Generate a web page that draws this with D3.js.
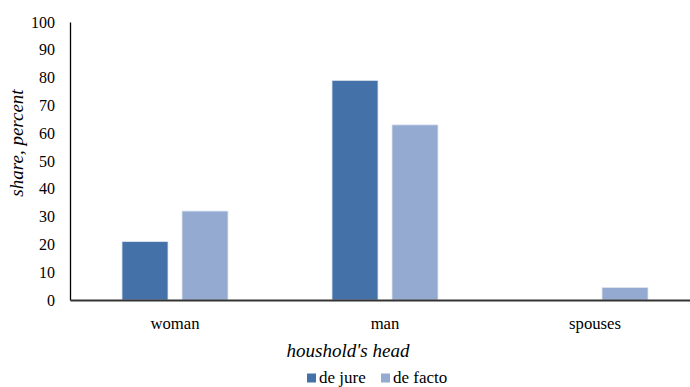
<!DOCTYPE html>
<html>
<head>
<meta charset="utf-8">
<script src="https://cdn.jsdelivr.net/npm/d3@7"></script>
<style>
  html, body { margin: 0; padding: 0; background: #fff; }
  svg { display: block; }
</style>
</head>
<body>
<svg id="chart" width="690" height="387"></svg>
<script>
// Share of households by type of head
const categories = ["woman", "man", "spouses"];
const seriesNames = ["de jure", "de facto"];
const deJure = [21, 79, 0];
const deFacto = [32, 63, 4.5];
const yTicks = [0, 10, 20, 30, 40, 50, 60, 70, 80, 90, 100];
const colors = ["#4472A8", "#94AAD1"];
const FONT = "Liberation Serif";

const svg = d3.select("#chart").attr("font-family", FONT);
const margin = { left: 70, top: 22, bottom: 87, right: -10 };
const W = 690, H = 387;

const x = d3.scaleBand().domain(categories).range([margin.left, W - margin.right]).paddingInner(0).paddingOuter(0);
const y = d3.scaleLinear().domain([0, 100]).range([H - margin.bottom, margin.top]);
const inner = d3.scaleBand().domain(seriesNames).range([0, x.bandwidth()]).paddingInner(0.2333).paddingOuter(0.8667);

const rows = categories.map((c, i) => ({ cat: c, values: [deJure[i], deFacto[i]] }));

// bars
const g = svg.append("g");
rows.forEach(r => {
  r.values.forEach((v, j) => {
    if (v <= 0) return;
    g.append("rect")
      .attr("x", x(r.cat) + inner(seriesNames[j]))
      .attr("y", y(v))
      .attr("width", inner.bandwidth())
      .attr("height", y(0) - y(v))
      .attr("fill", colors[j])
      .attr("stroke", "#dfe6f1")
      .attr("stroke-width", 0.8);
  });
});

// y axis
const yAxis = svg.append("g")
  .attr("transform", `translate(${margin.left},0)`)
  .call(d3.axisLeft(y).tickValues(yTicks).tickSize(0).tickPadding(15));
yAxis.attr("font-family", FONT);
yAxis.select(".domain").attr("stroke", "#000").attr("stroke-width", 1.3);
yAxis.selectAll("text").attr("font-family", FONT).attr("font-size", 16).attr("fill", "#000");

// x axis
const xAxis = svg.append("g")
  .attr("transform", `translate(0,${y(0)})`)
  .call(d3.axisBottom(x).tickSize(0).tickPadding(17));
xAxis.attr("font-family", FONT);
xAxis.select(".domain").attr("stroke", "#333").attr("stroke-width", 2);
xAxis.selectAll("text").attr("font-family", FONT).attr("font-size", 16.7).attr("fill", "#000");

// axis titles
svg.append("text")
  .attr("transform", "translate(23,143) rotate(-90)")
  .attr("text-anchor", "middle")
  .attr("font-family", FONT)
  .attr("font-size", 19).attr("font-style", "italic")
  .text("share, percent");

svg.append("text")
  .attr("x", 348).attr("y", 357)
  .attr("text-anchor", "middle")
  .attr("font-family", FONT)
  .attr("font-size", 19).attr("font-style", "italic")
  .text("houshold's head");

// legend
const legend = svg.append("g").attr("transform", "translate(307,382.5)");
const legendX = [0, 74];
seriesNames.forEach((s, i) => {
  const lg = legend.append("g").attr("transform", `translate(${legendX[i]},0)`);
  lg.append("rect").attr("x", 0).attr("y", -9).attr("width", 9).attr("height", 9).attr("fill", colors[i]);
  lg.append("text").attr("x", 12).attr("y", 0).attr("font-family", FONT).attr("font-size", 17).text(s);
});
</script>
</body>
</html>
